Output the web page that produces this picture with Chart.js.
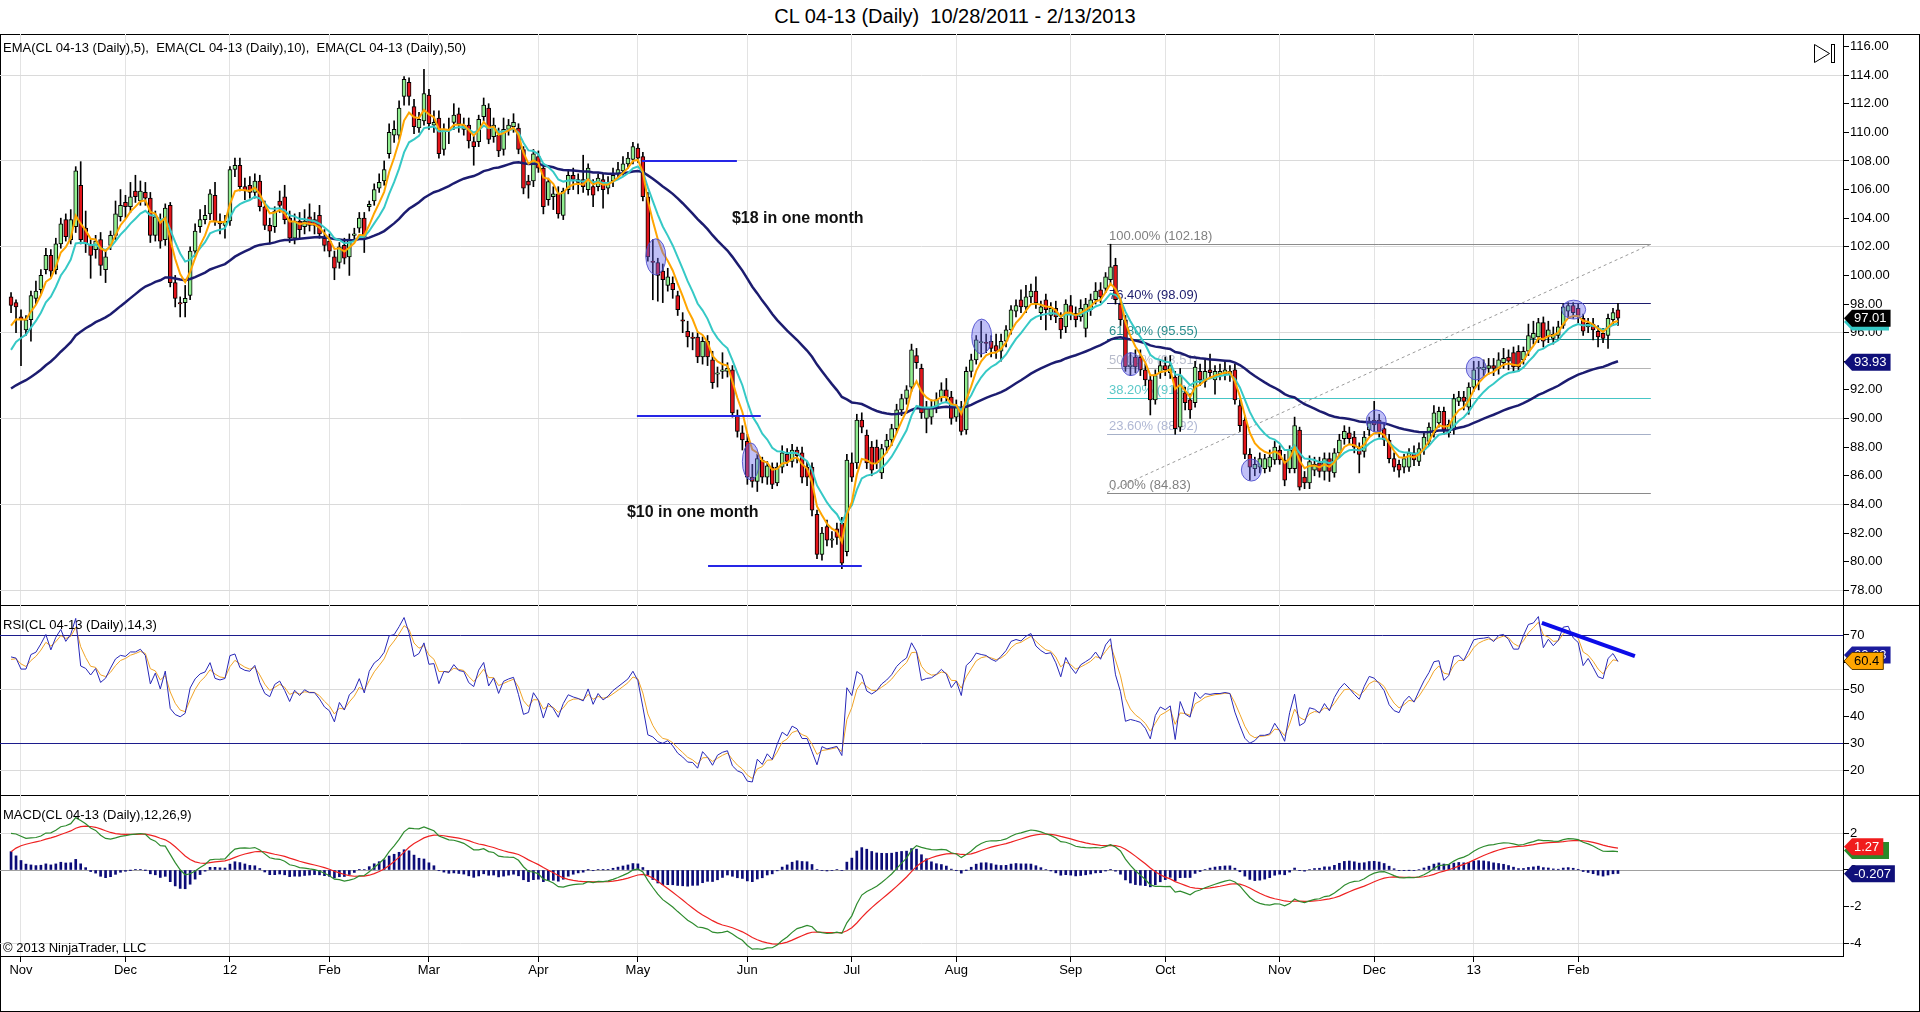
<!DOCTYPE html>
<html>
<head>
<meta charset="utf-8">
<title>CL 04-13 (Daily)</title>
<script src="https://cdn.jsdelivr.net/npm/chart.js@4.4.1/dist/chart.umd.min.js"></script>
<style>
  html, body { margin: 0; padding: 0; background: #fff; }
  body { position: relative; width: 1920px; height: 1012px; overflow: hidden;
         font-family: Arial, "Liberation Sans", sans-serif; }
  #title { position: absolute; left: 0; top: 4px; width: 1910px; text-align: center;
           font-size: 20px; line-height: 24px; color: #000; }
  #frame { position: absolute; left: 0; top: 34px; width: 1920px; height: 978px;
           box-sizing: border-box; border: 1px solid #000; }
  .sep { position: absolute; left: 0; width: 1920px; height: 1px; background: #000; }
  canvas { position: absolute; left: 0; }
</style>
</head>
<body>
<div id="title">CL 04-13 (Daily)&nbsp;&nbsp;10/28/2011 - 2/13/2013</div>
<div id="frame"></div>
<div class="sep" style="top:605px"></div>
<div class="sep" style="top:795px"></div>
<canvas id="priceChart" width="1920" height="571" style="top:34px"></canvas>
<canvas id="rsiChart" width="1920" height="190" style="top:605px"></canvas>
<canvas id="macdChart" width="1920" height="216" style="top:795px"></canvas>
<script>
// month labels on the date axis and the bar index of each month's first session
const monthLabels = ['Nov', 'Dec', '12', 'Feb', 'Mar', 'Apr', 'May', 'Jun', 'Jul', 'Aug', 'Sep', 'Oct', 'Nov', 'Dec', '13', 'Feb'];
const monthStarts = [2, 23, 44, 64, 84, 106, 126, 148, 169, 190, 213, 232, 255, 274, 294, 315];

const priceTicks = [78, 80, 82, 84, 86, 88, 90, 92, 94, 96, 98, 100, 102, 104, 106, 108, 110, 112, 114, 116];
const rsiTicks = [20, 30, 40, 50, 60, 70];
const macdTicks = [-4, -2, 0, 2];

// daily OHLC, 10/28/2011 .. 2/13/2013
const opens = [
  98.5, 98.1, 97.1, 96.2, 96.9, 98.4, 99.0, 100.4, 101.4, 100.4,
  102.2, 103.9, 102.5, 103.4, 106.3, 103.3, 102.1, 101.8, 102.5, 100.4,
  102.1, 102.8, 104.1, 105.1, 104.8, 105.9, 105.2, 105.8, 105.4, 102.8,
  103.8, 102.5, 104.9, 99.5, 98.1, 98.1, 98.6, 101.7, 103.4, 103.9,
  104.3, 105.6, 103.8, 103.5, 103.8, 107.4, 107.7, 106.2, 106.3, 105.8,
  106.6, 104.8, 103.5, 103.4, 105.2, 105.5, 104.0, 102.6, 103.8, 103.4,
  104.1, 103.9, 104.2, 102.6, 102.4, 101.3, 100.9, 102.1, 101.3, 102.8,
  103.3, 104.0, 104.8, 105.2, 106.1, 106.6, 108.5, 109.8, 109.8, 112.5,
  113.5, 111.8, 110.3, 110.8, 112.6, 110.5, 111.0, 108.8, 110.2, 110.7,
  111.3, 110.2, 110.5, 109.35, 109.35, 111.1, 111.7, 109.7, 109.8, 108.8,
  110.2, 110.4, 110.3, 108.8, 106.6, 106.6, 108.3, 107.5, 105.3, 105.5,
  105.7, 104.2, 106.0, 107.0, 106.7, 106.7, 106.0, 106.2, 106.2, 106.7,
  106.1, 106.6, 107.1, 107.3, 107.8, 108.1, 108.9, 108.3, 105.5, 101.0,
  100.9, 100.3, 99.3, 99.45, 98.6, 96.9, 96.1, 95.7, 95.7, 94.3,
  95.4, 94.1, 93.1, 93.3, 93.3, 93.4, 90.2, 89.0, 88.4, 85.9,
  85.6, 87.1, 85.9, 86.6, 85.5, 86.6, 87.5, 87.0, 87.8, 87.6,
  86.6, 86.6, 83.3, 80.5, 82.45, 81.5, 82.3, 82.7, 80.7, 86.9,
  86.9, 89.9, 88.85, 88.0, 88.0, 86.2, 88.0, 88.5, 89.3, 90.6,
  91.4, 92.2, 94.4, 93.5, 90.0, 90.1, 90.8, 91.5, 92.0, 91.5,
  90.1, 90.8, 89.2, 93.3, 94.1, 95.3, 95.3, 95.4, 95.1, 94.7,
  95.4, 96.2, 97.5, 98.3, 97.8, 98.5, 98.9, 97.4, 98.3, 97.2,
  97.7, 97.0, 96.4, 97.9, 97.35, 97.1, 96.3, 97.6, 98.3, 99.0,
  99.1, 99.7, 100.7, 98.0, 96.9, 93.6, 94.3, 94.3, 93.4, 92.7,
  91.3, 93.2, 93.7, 93.2, 92.9, 89.4, 91.8, 91.3, 91.1, 93.3,
  92.6, 93.4, 92.7, 93.1, 93.1, 93.1, 93.4, 90.9, 89.9, 87.5,
  86.5, 86.6, 86.5, 86.6, 87.1, 87.8, 87.1, 86.5, 86.5, 89.2,
  85.9, 85.5, 86.4, 86.9, 86.3, 87.2, 86.2, 87.6, 88.6, 89.0,
  88.7, 88.0, 87.7, 89.2, 89.9, 89.9, 89.3, 88.5, 87.2, 86.8,
  86.6, 86.6, 87.6, 87.0, 87.8, 88.4, 89.0, 89.7, 90.5, 89.0,
  89.2, 91.2, 91.5, 90.8, 92.2, 93.5, 93.4, 93.5, 93.7, 93.5,
  93.9, 94.3, 94.6, 94.7, 94.1, 94.7, 95.6, 95.7, 96.7, 95.7,
  95.6, 95.8, 96.5, 97.5, 97.9, 97.7, 97.0, 96.4, 96.6, 96.1,
  95.96, 95.8, 96.9, 97.6
];
const highs = [
  98.8, 98.3, 97.6, 97.2, 98.9, 99.6, 100.4, 101.9, 101.8, 102.6,
  104.0, 104.3, 104.6, 107.6, 107.95, 104.5, 102.5, 102.8, 103.0, 101.8,
  103.1, 105.2, 106.0, 105.6, 106.5, 107.0, 106.6, 106.5, 105.8, 104.5,
  104.3, 105.0, 105.1, 100.0, 98.5, 99.3, 102.0, 103.6, 104.6, 104.9,
  106.0, 106.5, 104.3, 104.2, 107.6, 108.2, 108.2, 106.8, 106.9, 107.1,
  107.0, 105.2, 104.0, 104.8, 105.9, 106.3, 104.5, 104.3, 104.4, 104.6,
  105.0, 104.4, 104.9, 103.2, 102.9, 101.7, 102.3, 102.6, 102.9, 103.3,
  104.4, 104.4, 105.2, 106.4, 107.1, 108.0, 110.6, 110.8, 112.2, 113.9,
  113.8, 112.3, 111.4, 114.4, 113.0, 111.5, 111.5, 110.6, 111.0, 112.0,
  111.7, 111.0, 111.0, 109.8, 111.2, 112.4, 112.0, 111.0, 110.3, 111.0,
  110.9, 111.3, 110.6, 109.0, 107.0, 108.8, 108.7, 107.8, 106.8, 106.2,
  106.2, 106.1, 107.4, 107.5, 107.1, 108.4, 107.8, 106.7, 107.1, 107.1,
  106.9, 107.5, 107.9, 108.3, 108.6, 109.3, 109.2, 108.6, 105.8, 102.5,
  101.2, 100.8, 100.5, 99.9, 98.9, 97.4, 96.8, 96.0, 96.0, 95.7,
  95.8, 94.7, 93.6, 94.6, 93.9, 93.7, 90.6, 89.5, 88.9, 86.8,
  87.5, 87.3, 87.0, 86.9, 86.9, 88.1, 87.9, 88.2, 88.0, 88.0,
  87.0, 86.9, 83.6, 82.4, 82.9, 82.1, 82.7, 83.1, 87.5, 87.6,
  90.3, 90.4, 89.2, 88.4, 88.5, 88.2, 88.9, 89.6, 91.0, 91.7,
  92.3, 95.2, 94.9, 93.8, 91.2, 91.3, 91.8, 92.5, 92.8, 91.9,
  91.3, 91.2, 93.6, 94.5, 95.8, 96.8, 95.9, 95.8, 95.9, 95.9,
  96.5, 97.9, 98.3, 99.0, 99.3, 99.4, 99.9, 98.2, 98.7, 98.1,
  98.2, 97.4, 98.3, 98.6, 97.8, 98.3, 98.4, 98.7, 99.5, 99.5,
  100.2, 102.18, 101.2, 98.3, 97.2, 94.6, 94.8, 94.8, 93.8, 93.0,
  93.4, 94.1, 94.3, 94.4, 93.3, 93.5, 92.2, 91.7, 94.0, 93.8,
  94.1, 94.5, 93.7, 93.8, 94.0, 93.7, 93.8, 91.3, 90.2, 87.9,
  87.3, 87.6, 87.5, 87.8, 88.4, 88.1, 87.5, 88.1, 90.1, 89.4,
  86.3, 87.4, 87.3, 87.3, 87.6, 87.6, 87.9, 88.9, 89.5, 89.4,
  89.1, 88.3, 89.1, 90.1, 91.2, 90.3, 89.7, 88.9, 87.6, 87.1,
  87.5, 87.9, 88.1, 88.3, 89.0, 89.7, 90.9, 90.8, 90.8, 89.9,
  91.7, 91.9, 91.9, 92.5, 94.0, 94.0, 94.1, 94.2, 94.2, 94.6,
  94.9, 94.8, 95.0, 95.1, 95.0, 96.6, 96.8, 97.0, 97.1, 96.8,
  96.4, 96.8, 98.0, 98.1, 98.1, 98.0, 97.3, 97.0, 97.0, 96.5,
  96.3, 97.3, 97.7, 98.05
];
const lows = [
  97.4, 96.0, 93.7, 95.8, 95.4, 98.0, 98.7, 100.1, 99.9, 100.1,
  101.9, 102.4, 102.2, 103.0, 102.2, 101.6, 99.8, 101.2, 100.0, 99.5,
  101.8, 102.5, 103.8, 104.0, 104.4, 105.1, 104.9, 104.9, 102.3, 102.4,
  101.9, 102.1, 99.2, 97.8, 97.1, 97.1, 98.3, 101.3, 103.0, 103.6,
  103.9, 103.5, 102.9, 102.6, 103.5, 106.9, 105.9, 105.3, 105.4, 105.4,
  104.5, 103.2, 102.2, 103.0, 104.4, 103.6, 102.3, 102.2, 102.6, 102.9,
  103.1, 102.9, 102.6, 101.7, 101.3, 99.7, 100.5, 100.8, 100.0, 102.4,
  103.0, 101.6, 104.5, 104.9, 105.8, 106.3, 108.2, 109.3, 109.5, 111.9,
  111.9, 109.9, 110.0, 110.5, 110.2, 110.0, 108.2, 108.4, 109.2, 110.2,
  110.0, 109.8, 108.9, 107.7, 109.0, 110.8, 109.2, 109.3, 108.3, 108.4,
  109.8, 110.0, 108.5, 105.7, 105.4, 106.2, 107.2, 104.3, 104.9, 104.6,
  104.0, 103.9, 105.7, 106.0, 105.7, 105.8, 105.6, 104.8, 105.9, 104.7,
  105.7, 106.2, 106.8, 107.0, 107.5, 107.8, 107.9, 105.2, 101.0, 98.3,
  98.2, 98.1, 98.9, 98.4, 97.2, 96.0, 95.0, 94.8, 93.9, 93.8,
  93.7, 92.1, 92.2, 92.8, 92.9, 90.1, 88.7, 87.8, 85.4, 85.2,
  84.9, 85.5, 85.4, 85.1, 85.3, 86.2, 86.7, 86.6, 86.9, 85.5,
  85.3, 83.2, 80.2, 80.1, 81.1, 81.0, 81.2, 79.5, 80.4, 85.6,
  86.5, 89.0, 86.5, 86.0, 86.5, 85.8, 87.6, 88.1, 89.0, 90.2,
  91.0, 91.9, 93.5, 90.0, 89.0, 89.6, 90.4, 91.2, 91.1, 89.6,
  89.8, 88.85, 88.9, 92.9, 93.8, 94.3, 94.6, 94.3, 94.2, 94.0,
  95.0, 95.9, 97.1, 97.4, 97.4, 98.1, 97.7, 96.9, 96.2, 96.9,
  96.7, 95.6, 96.0, 96.9, 96.4, 96.8, 95.7, 97.2, 98.0, 98.1,
  98.8, 99.3, 98.0, 96.5, 93.3, 93.0, 93.2, 93.0, 92.3, 90.25,
  91.0, 92.8, 93.0, 92.8, 88.9, 89.1, 90.6, 90.0, 90.8, 92.3,
  92.2, 92.8, 91.7, 92.7, 92.7, 92.6, 91.0, 89.1, 87.2, 85.7,
  86.0, 86.2, 86.2, 86.3, 86.8, 86.8, 85.3, 86.2, 86.2, 85.0,
  85.1, 85.1, 86.0, 85.9, 85.7, 85.6, 85.9, 87.3, 88.2, 88.2,
  87.6, 86.2, 87.3, 88.8, 89.1, 88.7, 88.1, 86.9, 86.3, 85.9,
  86.2, 86.3, 86.7, 86.7, 87.5, 88.1, 88.7, 89.4, 88.9, 88.7,
  88.9, 90.9, 90.6, 90.3, 91.9, 92.0, 93.0, 93.1, 93.0, 93.1,
  93.5, 93.4, 93.2, 93.3, 93.8, 94.4, 95.2, 95.3, 95.0, 95.3,
  95.2, 95.5, 96.3, 97.0, 97.0, 96.7, 95.8, 96.0, 95.5, 95.0,
  95.3, 94.9, 96.5, 96.5
];
const closes = [
  97.9, 97.8, 96.9, 96.9, 98.6, 98.9, 100.0, 101.4, 100.3, 102.2,
  103.6, 102.7, 103.9, 107.3, 102.5, 102.2, 101.4, 102.4, 100.7, 101.3,
  102.8, 104.3, 104.9, 104.8, 105.5, 105.5, 105.9, 105.4, 102.8, 104.1,
  102.4, 104.7, 99.5, 98.4, 98.0, 98.4, 101.7, 103.1, 103.9, 104.2,
  105.7, 103.8, 103.6, 103.8, 107.4, 107.7, 106.2, 105.9, 105.8, 106.6,
  104.8, 103.5, 103.1, 104.5, 104.9, 103.9, 102.6, 103.8, 103.2, 103.8,
  103.5, 103.5, 102.9, 102.1, 101.7, 100.5, 102.0, 101.2, 102.5, 102.9,
  104.0, 102.7, 104.97, 106.0, 106.5, 107.4, 110.0, 110.2, 111.7, 113.7,
  112.5, 110.4, 110.9, 112.7, 110.6, 110.7, 108.5, 110.2, 110.1, 111.2,
  110.6, 110.5, 109.4, 109.0, 110.9, 111.9, 109.5, 110.5, 108.7, 110.2,
  110.5, 110.7, 108.8, 106.1, 106.3, 108.5, 107.5, 104.8, 106.55, 105.7,
  104.3, 105.9, 107.0, 106.7, 106.5, 106.2, 107.5, 105.6, 106.8, 106.0,
  106.4, 107.0, 107.4, 107.8, 108.2, 109.0, 108.2, 105.5, 101.3, 100.9,
  100.0, 99.7, 99.9, 99.0, 97.6, 96.8, 95.7, 95.6, 94.3, 95.4,
  94.3, 92.5, 93.2, 93.4, 93.5, 90.4, 89.1, 88.5, 85.9, 85.6,
  87.2, 85.9, 86.7, 85.4, 86.6, 87.6, 87.0, 87.8, 87.4, 85.9,
  85.9, 83.6, 80.5, 82.0, 81.5, 81.6, 81.7, 79.9, 87.1, 85.9,
  89.9, 89.4, 86.9, 86.4, 86.9, 87.9, 88.5, 89.3, 90.6, 91.4,
  92.0, 94.8, 93.9, 90.4, 90.7, 90.8, 91.3, 92.0, 91.5, 90.0,
  90.8, 89.1, 93.3, 94.1, 95.5, 95.35, 95.25, 94.9, 94.7, 95.4,
  96.2, 97.6, 97.9, 97.8, 98.5, 98.9, 98.1, 97.8, 97.6, 97.7,
  97.1, 96.2, 98.0, 97.35, 96.9, 97.7, 98.0, 98.3, 98.9, 98.5,
  99.9, 100.6, 98.3, 96.9, 93.6, 93.75, 93.6, 93.4, 92.7, 91.3,
  93.0, 93.7, 93.4, 93.7, 89.3, 93.0, 91.1, 90.6, 93.6, 92.7,
  93.3, 93.2, 93.3, 93.3, 93.4, 93.3, 91.3, 89.5, 87.5, 86.6,
  86.8, 87.2, 87.2, 87.3, 88.0, 87.1, 85.7, 87.8, 89.5, 85.2,
  85.5, 87.0, 86.8, 86.3, 87.2, 86.3, 87.6, 88.5, 89.1, 88.6,
  88.0, 87.5, 88.7, 89.7, 89.55, 89.1, 88.5, 87.2, 86.6, 86.4,
  87.2, 87.6, 87.1, 87.9, 88.7, 89.4, 90.4, 90.5, 89.2, 89.6,
  91.4, 91.5, 91.2, 92.2, 93.4, 93.55, 93.6, 93.7, 93.5, 94.1,
  94.2, 94.0, 93.6, 93.6, 94.7, 95.8, 95.96, 96.7, 95.4, 96.2,
  95.9, 96.4, 97.8, 97.9, 97.4, 97.2, 96.1, 96.65, 96.2, 95.7,
  95.6, 97.0, 97.4, 97.01
];

// indicator values at the first bar (the history before 10/28 is not shown)
const emaStart = { 5: 96.5, 10: 94.8, 50: 92.1 };
const rsiStart = { up: 0.65, down: 0.40, avg: 61 };
const macdStart = { fast: 96.4, slow: 94.4, signal: 1.0 };

// right-hand value flags as printed on the axes
const priceFlags = [[96.75, ''], [97.01, '97.01'], [93.93, '93.93']];
const rsiFlags = [[62.63, '62.63'], [60.4, '60.4']];
const macdFlags = [[1.07, ''], [1.27, '1.27'], [-0.207, '-0.207']];

// drawing objects (bar index, price)
const fibPercents = [100, 76.4, 61.8, 50, 38.2, 23.6, 0];
const fibPrices = [102.18, 98.09, 95.55, 93.51, 91.46, 88.92, 84.83];
const fibRange = [220.3, 329.6];
const blueLines = [[126.8, 145.9, 108.0], [125.8, 150.7, 90.18], [140.1, 171.0, 79.7]];
const notes = [['$18 in one month', 144.9, 103.95], ['$10 in one month', 123.8, 83.4]];
const circles = [
  [129.6, 101.3, 2.0, 1.26], [148.7, 87.0, 1.7, 1.29], [195.1, 95.73, 2.0, 1.22],
  [225.1, 93.8, 1.9, 0.8], [249.3, 86.4, 2.0, 0.77], [274.4, 89.83, 2.0, 0.77],
  [294.5, 93.5, 2.0, 0.8], [314.1, 97.61, 2.4, 0.66]
];
const rsiTrend = [[307.7, 74.5], [326.4, 62.2]];

const X_MIN = -2.22, X_MAX = 368.23;
const FONT = 'Arial, "Liberation Sans", sans-serif';

// ---------- indicators ----------
const ema = (src, n, seed) => {
    const k = 2 / (n + 1);
    const out = [seed];
    for (let i = 1; i < src.length; i++) out.push(k * src[i] + (1 - k) * out[i - 1]);
    return out;
};

const calcRsi = (src, n, smooth) => {
    let up = rsiStart.up, down = rsiStart.down;
    const k = 2 / (1 + smooth);
    const val = [100 - 100 / (1 + up / down)];
    const avg = [rsiStart.avg];
    for (let i = 1; i < src.length; i++) {
        const d = src[i] - src[i - 1];
        up = (up * (n - 1) + Math.max(d, 0)) / n;
        down = (down * (n - 1) + Math.max(-d, 0)) / n;
        const r = down === 0 ? 100 : 100 - 100 / (1 + up / down);
        val.push(r);
        avg.push(k * r + (1 - k) * avg[i - 1]);
    }
    return { val, avg };
};

const ema5 = ema(closes, 5, emaStart[5]);
const ema10 = ema(closes, 10, emaStart[10]);
const ema50 = ema(closes, 50, emaStart[50]);
const rsi = calcRsi(closes, 14, 3);
const fastEma = ema(closes, 12, macdStart.fast);
const slowEma = ema(closes, 26, macdStart.slow);
const macdLine = fastEma.map((v, i) => v - slowEma[i]);
const macdAvg = ema(macdLine, 9, macdStart.signal);
const macdDiff = macdLine.map((v, i) => v - macdAvg[i]);

const pts = arr => arr.map((v, i) => ({ x: i, y: v }));

// ---------- shared scale pieces ----------
const xScale = (showLabels) => ({
    type: 'linear', min: X_MIN, max: X_MAX, offset: false,
    afterBuildTicks: s => { s.ticks = monthStarts.map(v => ({ value: v })); },
    grid: { color: '#e3e3e3', offset: false, drawTicks: showLabels, tickLength: 6, tickColor: '#000' },
    border: { display: showLabels, color: '#000' },
    ticks: { display: showLabels, autoSkip: false, maxRotation: 0, padding: 1, color: '#000',
             font: { size: 13 }, callback: (v, i) => monthLabels[i] },
    afterFit: s => { s.height = showLabels ? 55 : 0; s.paddingLeft = 0; s.paddingRight = 0; }
});

const yScale = (min, max, ticks, fmt, hasGrid) => ({
    position: 'right', min, max,
    afterBuildTicks: s => { s.ticks = ticks.map(v => ({ value: v })); },
    grid: { color: c => (c.tick && hasGrid(c.tick.value)) ? '#dadada' : 'rgba(0,0,0,0)',
            tickColor: '#000', tickLength: 6 },
    border: { color: '#000' },
    ticks: { padding: 1, autoSkip: false, color: '#000', font: { size: 13 }, callback: fmt },
    afterFit: s => { s.width = 77; s.paddingTop = 0; s.paddingBottom = 0; }
});

const baseOptions = (scales) => ({
    responsive: false, animation: false, devicePixelRatio: 1, events: [],
    layout: { padding: 0 },
    plugins: { legend: { display: false }, tooltip: { enabled: false } },
    scales
});

const drawFlag = (ctx, left, yc, text, bg, fg, edge) => {
    ctx.font = '13px ' + FONT;
    const w = text ? ctx.measureText(text).width + 5 : 36;
    ctx.beginPath();
    ctx.moveTo(left, yc);
    ctx.lineTo(left + 8, yc - 8.5);
    ctx.lineTo(left + 9 + w, yc - 8.5);
    ctx.lineTo(left + 9 + w, yc + 8.5);
    ctx.lineTo(left + 8, yc + 8.5);
    ctx.closePath();
    ctx.fillStyle = bg;
    ctx.fill();
    if (edge) { ctx.strokeStyle = edge; ctx.lineWidth = 1; ctx.stroke(); }
    if (text) {
        ctx.fillStyle = fg;
        ctx.textAlign = 'left';
        ctx.textBaseline = 'middle';
        ctx.fillText(text, left + 10, yc + 0.5);
    }
};

const panelLabel = (ctx, text, x, y) => {
    ctx.font = '13px ' + FONT;
    ctx.fillStyle = '#000';
    ctx.textAlign = 'left';
    ctx.textBaseline = 'middle';
    ctx.fillText(text, x, y);
};

// ---------- price panel ----------
const fibLineColors = ['#8c8c8c', '#1c1c6c', '#1f8a8a', '#b4b4b4', '#46c6c6', '#a6b0c8', '#8a8a8a'];
const fibTextColors = ['#808080', '#1c1c6c', '#2a8e8e', '#b8bccc', '#5cc9c9', '#b0b8d4', '#808080'];

const priceExtras = {
    id: 'priceExtras',
    beforeDatasetsDraw(chart) {
        const { ctx, scales: { x, y } } = chart;
        const x0 = x.getPixelForValue(fibRange[0]);
        const x1 = x.getPixelForValue(fibRange[1]);
        ctx.save();
        ctx.lineWidth = 1;
        fibPercents.forEach((p, i) => {
            const py = Math.round(y.getPixelForValue(fibPrices[i])) + 0.5;
            ctx.strokeStyle = fibLineColors[i];
            ctx.beginPath();
            ctx.moveTo(x0, py);
            ctx.lineTo(x1, py);
            ctx.stroke();
            ctx.fillStyle = fibTextColors[i];
            ctx.font = '13px ' + FONT;
            ctx.textAlign = 'left';
            ctx.textBaseline = 'alphabetic';
            ctx.fillText(p.toFixed(2) + '% (' + fibPrices[i].toFixed(2) + ')', x0 + 2, py - 5);
        });
        ctx.strokeStyle = '#9a9a9a';
        ctx.setLineDash([3, 3]);
        ctx.beginPath();
        ctx.moveTo(x0, y.getPixelForValue(fibPrices[6]));
        ctx.lineTo(x1, y.getPixelForValue(fibPrices[0]));
        ctx.stroke();
        ctx.restore();
    },
    afterDatasetsDraw(chart) {
        const { ctx, scales: { x, y } } = chart;
        ctx.save();
        ctx.strokeStyle = '#2626e6';
        ctx.lineWidth = 2;
        blueLines.forEach(([a, b, p]) => {
            const py = Math.round(y.getPixelForValue(p));
            ctx.beginPath();
            ctx.moveTo(x.getPixelForValue(a), py);
            ctx.lineTo(x.getPixelForValue(b), py);
            ctx.stroke();
        });
        ctx.fillStyle = 'rgba(104,104,236,0.42)';
        ctx.strokeStyle = 'rgba(78,78,205,0.9)';
        ctx.lineWidth = 1;
        circles.forEach(([cx, cy, rx, ry]) => {
            const px = x.getPixelForValue(cx), py = y.getPixelForValue(cy);
            const prx = Math.abs(x.getPixelForValue(cx + rx) - px);
            const pry = Math.abs(y.getPixelForValue(cy + ry) - py);
            ctx.beginPath();
            ctx.ellipse(px, py, prx, pry, 0, 0, Math.PI * 2);
            ctx.fill();
            ctx.stroke();
        });
        ctx.fillStyle = '#111';
        ctx.font = 'bold 16px ' + FONT;
        ctx.textAlign = 'left';
        ctx.textBaseline = 'middle';
        notes.forEach(([t, nx, ny]) => ctx.fillText(t, x.getPixelForValue(nx), y.getPixelForValue(ny)));
        ctx.restore();
    },
    afterDraw(chart) {
        const { ctx, chartArea, scales: { y } } = chart;
        ctx.save();
        panelLabel(ctx, 'EMA(CL 04-13 (Daily),5),  EMA(CL 04-13 (Daily),10),  EMA(CL 04-13 (Daily),50)', 3, 14);
        // "scroll to end" button
        ctx.strokeStyle = '#000';
        ctx.lineWidth = 1;
        ctx.beginPath();
        ctx.moveTo(1814.5, 10.5); ctx.lineTo(1829.5, 19.5); ctx.lineTo(1814.5, 28.5); ctx.closePath();
        ctx.stroke();
        ctx.strokeRect(1831.5, 10.5, 3, 18);
        const left = chartArea.right + 1;
        const style = [['#36c9c6', '#fff'], ['#000', '#fff'], ['#10107a', '#fff']];
        priceFlags.forEach(([v, t], i) => drawFlag(ctx, left, y.getPixelForValue(v), t, style[i][0], style[i][1]));
        ctx.restore();
    }
};

new Chart(document.getElementById('priceChart'), {
    type: 'bar',
    data: {
        datasets: [
            { type: 'line', data: pts(ema5), borderColor: '#ffa500', borderWidth: 2, pointRadius: 0, order: 1 },
            { type: 'line', data: pts(ema10), borderColor: '#36c9c6', borderWidth: 2, pointRadius: 0, order: 1 },
            { type: 'line', data: pts(ema50), borderColor: '#1c1c70', borderWidth: 2.5, pointRadius: 0, order: 1 },
            {
                data: closes.map((c, i) => ({ x: i, y: [opens[i], c] })),
                backgroundColor: closes.map((c, i) => c >= opens[i] ? '#90ee90' : '#e3141a'),
                borderColor: '#000', borderWidth: 1, borderSkipped: false,
                barThickness: 4, minBarLength: 1, grouped: false, order: 2
            },
            {
                data: closes.map((c, i) => ({ x: i, y: [lows[i], highs[i]] })),
                backgroundColor: '#000', borderWidth: 0,
                barThickness: 1, grouped: false, order: 3
            }
        ]
    },
    options: baseOptions({
        x: xScale(false),
        y: yScale(76.97, 116.87, priceTicks, v => v.toFixed(2), v => v % 6 === 0)
    }),
    plugins: [priceExtras]
});

// ---------- RSI panel ----------
const rsiExtras = {
    id: 'rsiExtras',
    beforeDatasetsDraw(chart) {
        const { ctx, chartArea, scales: { y } } = chart;
        ctx.save();
        ctx.strokeStyle = '#1c1c8c';
        ctx.lineWidth = 1;
        [70, 30].forEach(v => {
            const py = Math.round(y.getPixelForValue(v)) + 0.5;
            ctx.beginPath();
            ctx.moveTo(chartArea.left, py);
            ctx.lineTo(chartArea.right, py);
            ctx.stroke();
        });
        ctx.restore();
    },
    afterDatasetsDraw(chart) {
        const { ctx, scales: { x, y } } = chart;
        ctx.save();
        ctx.strokeStyle = '#0c0ce8';
        ctx.lineWidth = 4;
        ctx.beginPath();
        ctx.moveTo(x.getPixelForValue(rsiTrend[0][0]), y.getPixelForValue(rsiTrend[0][1]));
        ctx.lineTo(x.getPixelForValue(rsiTrend[1][0]), y.getPixelForValue(rsiTrend[1][1]));
        ctx.stroke();
        ctx.restore();
    },
    afterDraw(chart) {
        const { ctx, chartArea, scales: { y } } = chart;
        ctx.save();
        panelLabel(ctx, 'RSI(CL 04-13 (Daily),14,3)', 3, 20);
        drawFlag(ctx, chartArea.right + 1, y.getPixelForValue(rsiFlags[0][0]), rsiFlags[0][1], '#1c1c9c', '#fff');
        drawFlag(ctx, chartArea.right + 1, y.getPixelForValue(rsiFlags[1][0]), rsiFlags[1][1], '#ffa500', '#000', '#5a3c00');
        ctx.restore();
    }
};

new Chart(document.getElementById('rsiChart'), {
    type: 'line',
    data: {
        datasets: [
            { data: pts(rsi.val), borderColor: '#2828b8', borderWidth: 1, pointRadius: 0, order: 1 },
            { data: pts(rsi.avg), borderColor: '#f0a428', borderWidth: 1, pointRadius: 0, order: 2 }
        ]
    },
    options: baseOptions({
        x: xScale(false),
        y: yScale(10.9, 81.08, rsiTicks, v => String(v), v => v === 50 || v === 20)
    }),
    plugins: [rsiExtras]
});

// ---------- MACD panel ----------
const macdExtras = {
    id: 'macdExtras',
    beforeDatasetsDraw(chart) {
        const { ctx, chartArea, scales: { y } } = chart;
        const py = Math.round(y.getPixelForValue(0)) + 0.5;
        ctx.save();
        ctx.strokeStyle = '#a0a0a0';
        ctx.lineWidth = 1;
        ctx.beginPath();
        ctx.moveTo(chartArea.left, py);
        ctx.lineTo(chartArea.right, py);
        ctx.stroke();
        ctx.restore();
    },
    afterDraw(chart) {
        const { ctx, chartArea, scales: { y } } = chart;
        ctx.save();
        panelLabel(ctx, 'MACD(CL 04-13 (Daily),12,26,9)', 3, 20);
        panelLabel(ctx, '\u00A9 2013 NinjaTrader, LLC', 3, 153);
        const style = [['#2a8a2a', '#fff'], ['#f01c1c', '#fff'], ['#10107a', '#fff']];
        macdFlags.forEach(([v, t], i) => drawFlag(ctx, chartArea.right + 1, y.getPixelForValue(v), t, style[i][0], style[i][1]));
        ctx.restore();
    }
};

new Chart(document.getElementById('macdChart'), {
    type: 'bar',
    data: {
        datasets: [
            { type: 'line', data: pts(macdLine), borderColor: '#2e8b2e', borderWidth: 1.2, pointRadius: 0, order: 1 },
            { type: 'line', data: pts(macdAvg), borderColor: '#ee2222', borderWidth: 1.2, pointRadius: 0, order: 1 },
            { data: pts(macdDiff), backgroundColor: '#0c0c78', barThickness: 2, grouped: false, order: 2 }
        ]
    },
    options: baseOptions({
        x: xScale(true),
        y: yScale(-4.69, 4.09, macdTicks, v => String(v), v => v === 2 || v === -4)
    }),
    plugins: [macdExtras]
});
</script>
</body>
</html>
